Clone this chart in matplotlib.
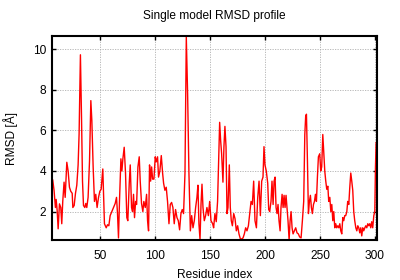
import matplotlib
matplotlib.use("Agg")
import matplotlib.pyplot as plt

title = "Single model RMSD profile"
xlabel = "Residue index"
ylabel = "RMSD [Å]"
xticks = [50, 100, 150, 200, 250, 300]
yticks = [2, 4, 6, 8, 10]

residue = [
    6.5, 7.7, 8.9, 9.6, 10.5, 11.4, 12.6, 13.8, 14.7, 15.6, 16.8, 17.8, 19.3, 20.5,
    21.7, 22.9, 24.2, 24.8, 26.0, 27.2, 28.4, 29.6, 30.5, 31.7, 32.7, 33.6, 34.5,
    35.7, 36.6, 37.5, 38.7, 40.0, 41.2, 42.1, 43.3, 44.5, 45.7, 46.9, 48.2, 49.4,
    50.6, 52.1, 53.6, 55.2, 56.4, 57.6, 58.8, 60.3, 61.9, 63.4, 64.6, 65.5, 66.4,
    67.3, 68.6, 69.5, 70.4, 71.6, 72.8, 74.0, 74.9, 76.2, 77.1, 78.3, 79.2, 80.1,
    81.0, 82.0, 82.9, 84.1, 85.3, 86.2, 87.4, 88.6, 89.5, 90.8, 92.0, 92.9, 93.8,
    94.7, 95.7, 96.6, 97.5, 98.7, 99.9, 100.8, 102.0, 102.9, 104.1, 105.4, 106.6,
    107.5, 108.7, 109.9, 111.1, 112.4, 113.6, 114.8, 116.0, 117.2, 118.4, 119.7,
    120.9, 122.1, 123.3, 124.5, 125.7, 127.0, 128.2, 129.4, 130.6, 131.9, 133.1,
    134.3, 135.5, 136.7, 137.9, 138.8, 139.7, 140.7, 141.6, 142.5, 143.4, 144.6,
    145.8, 147.0, 148.3, 149.5, 150.7, 152.2, 153.1, 154.3, 155.5, 156.7, 157.7,
    158.6, 159.5, 160.4, 161.6, 162.5, 163.4, 164.4, 165.3, 166.2, 167.4, 168.3,
    169.2, 170.2, 171.4, 172.6, 173.8, 175.0, 176.2, 177.5, 178.7, 179.9, 181.1,
    182.3, 183.5, 184.8, 186.0, 187.2, 188.4, 189.6, 190.8, 192.1, 193.3, 194.5,
    195.7, 196.9, 198.1, 199.0, 199.9, 201.1, 202.4, 203.3, 204.2, 205.4, 206.3,
    207.3, 208.2, 209.1, 210.0, 210.9, 211.8, 212.7, 213.7, 214.5, 215.5, 216.4,
    217.3, 218.2, 219.1, 220.0, 220.9, 221.9, 222.8, 223.7, 224.6, 225.5, 226.7,
    227.9, 229.1, 230.3, 231.5, 232.8, 234.0, 235.2, 236.2, 237.0, 237.7, 238.6,
    239.5, 240.4, 241.3, 242.2, 243.1, 244.1, 245.0, 245.9, 246.8, 247.7, 248.6,
    249.8, 250.7, 251.6, 252.6, 253.5, 254.4, 255.3, 256.2, 257.2, 258.0, 259.0,
    259.9, 260.8, 261.7, 262.6, 263.5, 264.4, 265.3, 266.3, 267.2, 268.1, 269.0,
    269.9, 270.8, 271.7, 272.6, 273.5, 274.5, 275.3, 276.3, 277.2, 278.1, 279.0,
    279.9, 280.8, 281.7, 282.7, 283.6, 284.5, 285.4, 286.3, 287.2, 288.1, 289.0,
    289.9, 290.9, 291.8, 292.7, 293.6, 294.5, 295.4, 296.3, 297.2, 298.1, 299.1,
    300.0, 300.6, 301.2,
]
rmsd = [
    3.55, 3.03, 2.2, 2.6, 2.05, 1.15, 2.38, 2.2, 1.4, 2.5, 3.45, 2.7, 4.43, 4.0,
    3.2, 3.0, 2.9, 2.2, 2.3, 2.9, 3.3, 4.3, 5.83, 9.73, 6.65, 3.5, 2.3,
    2.2, 2.4, 2.2, 2.7, 4.5, 7.47, 6.5, 4.2, 2.5, 2.85, 2.2, 2.7, 3.0,
    3.1, 4.1, 1.4, 1.2, 1.35, 1.3, 1.8, 2.0, 2.2, 2.4, 2.7, 1.9, 0.7,
    2.5, 4.6, 4.0, 4.6, 5.17, 3.9, 1.7, 1.55, 3.4, 4.3, 2.2, 2.0, 2.85,
    1.7, 2.5, 2.35, 4.2, 4.7, 3.5, 2.4, 2.0, 2.5, 2.2, 2.85, 1.55, 1.05,
    4.3, 3.5, 4.2, 3.6, 3.6, 4.7, 4.45, 4.7, 3.7, 4.0, 4.76, 3.9,
    3.4, 3.05, 3.2, 2.5, 1.4, 2.35, 2.45, 2.2, 1.4, 2.1, 1.7,
    1.55, 1.1, 1.9, 2.1, 1.9, 3.9, 10.6, 7.8, 3.9, 1.05, 1.8,
    1.2, 1.55, 2.2, 2.7, 3.3, 1.4, 0.62, 2.35, 3.35, 2.2, 1.55,
    1.8, 2.2, 1.8, 2.5, 1.55, 1.4, 1.2, 1.9, 1.5, 2.5, 4.5,
    6.4, 5.5, 4.85, 3.45, 5.2, 6.2, 5.2, 1.9, 2.2, 4.3, 2.2,
    1.55, 1.3, 1.9, 1.65, 1.05, 1.3, 0.9, 0.65, 0.65, 0.7, 0.9,
    1.2, 1.05, 1.3, 1.9, 2.5, 2.35, 3.5, 1.55, 1.2, 2.7, 3.5,
    1.8, 3.5, 3.7, 5.2, 4.3, 4.0, 3.4, 2.1, 2.0, 2.5, 3.5,
    2.35, 3.5, 3.7, 2.2, 1.9, 2.35, 1.55, 1.05, 2.2, 2.85, 2.2,
    2.8, 2.2, 2.8, 2.2, 1.55, 0.6, 1.55, 2.0, 1.2, 0.9, 1.05,
    1.2, 0.95, 0.9, 0.75, 0.7, 1.55, 2.5, 5.8, 6.7, 6.8, 4.5,
    1.9, 2.5, 2.8, 2.2, 1.9, 2.35, 2.5, 2.85, 2.5, 3.7, 4.7,
    4.85, 4.0, 4.2, 5.8, 4.85, 4.0, 3.5, 3.1, 3.25, 2.5, 2.7,
    2.0, 2.35, 1.55, 2.0, 1.2, 1.4, 1.2, 1.3, 1.2, 1.4, 1.05,
    0.9, 1.7, 1.55, 1.8, 1.8, 2.0, 2.5, 2.35, 3.2, 3.9, 3.5,
    3.05, 2.0, 1.55, 1.2, 1.05, 1.3, 1.2, 0.95, 1.2, 0.8, 1.2,
    1.05, 1.2, 1.3, 1.2, 1.4, 1.3, 1.4, 1.2, 1.5, 1.2, 1.8,
    2.0, 4.2, 5.4,
]

plt.rcParams['font.family'] = ['Liberation Sans', 'DejaVu Sans']
fig = plt.figure(figsize=(4.0, 2.8), dpi=100)
ax = fig.add_axes([0.13, 0.143, 0.8125, 0.728])
ax.plot(residue, rmsd, color='#ff0000', lw=1.0)
ax.set_xlim(5.8, 302)
ax.set_ylim(0.6, 10.65)
ax.set_xticks(xticks)
ax.set_yticks(yticks)
ax.grid(True, color='#b0b0b0', linestyle=(0, (1.5, 1.5)), lw=0.6)
ax.tick_params(direction='in', top=True, right=True, length=3, width=1,
               labelsize=8.6)
ax.tick_params(axis='x', pad=7)
ax.tick_params(axis='y', pad=4)
for s in ax.spines.values():
    s.set_linewidth(1.5)
ax.set_title(title, fontsize=8.6, pad=12)
ax.set_xlabel(xlabel, fontsize=8.6, labelpad=5)
ax.set_ylabel(ylabel, fontsize=8.6, labelpad=11)
fig.savefig("out.png", dpi=100)
